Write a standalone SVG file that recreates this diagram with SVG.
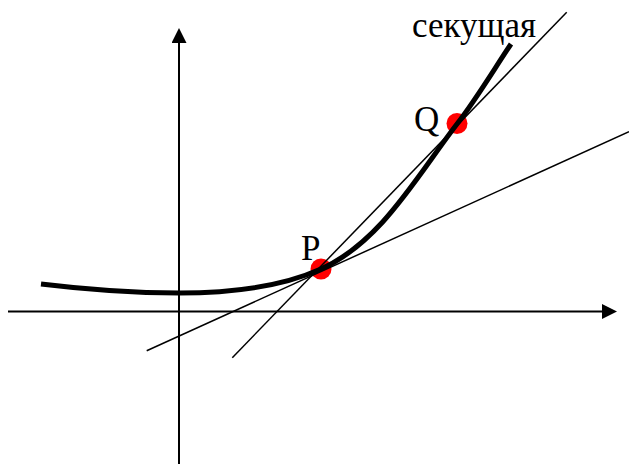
<svg xmlns="http://www.w3.org/2000/svg" width="629" height="464" viewBox="0 0 629 464">
  <style>
    .axis { stroke: #000; stroke-width: 2; fill: none; }
    .thin { stroke: #000; stroke-width: 1.5; fill: none; }
    .curve { stroke: #000; stroke-width: 5; fill: none; }
    .dot { fill: #ff0000; }
    .lbl { font-family: "Liberation Serif", "Times New Roman", serif; font-size: 35px; fill: #000; }
  </style>
  <defs>
    <marker id="arrow" viewBox="0 0 15 15" refX="0" refY="7.5" markerWidth="15" markerHeight="15" markerUnits="userSpaceOnUse" orient="auto">
      <path d="M0,0 L15,7.5 L0,15 Z" fill="#000"/>
    </marker>
  </defs>
  <rect width="629" height="464" fill="#fff"/>
  <g id="P">
    <circle class="dot" cx="321" cy="269" r="10.5"/>
    <text class="lbl" x="301" y="260">P</text>
  </g>
  <g id="Q">
    <circle class="dot" cx="457" cy="123.5" r="10.5"/>
    <text class="lbl" x="414" y="131">Q</text>
  </g>
  <g id="secant-label">
    <text class="lbl" x="412" y="37">секущая</text>
  </g>
  <g id="connectors">
    <line class="axis" x1="8" y1="311.5" x2="602" y2="311.5" marker-end="url(#arrow)"/>
    <line class="axis" x1="179" y1="464" x2="179" y2="43" marker-end="url(#arrow)"/>
    <path id="curve" class="curve" d="M41,284 C90,290 140,293 179,293 C230,293 281,287 321,269 C381,242 417,176 457,124 C475,101 493,71 511,44"/>
    <line id="tangent" class="thin" x1="146.7" y1="350.7" x2="629" y2="131.7"/>
    <line id="secant" class="thin" x1="232.3" y1="357.7" x2="566.7" y2="12.3"/>
  </g>
</svg>
